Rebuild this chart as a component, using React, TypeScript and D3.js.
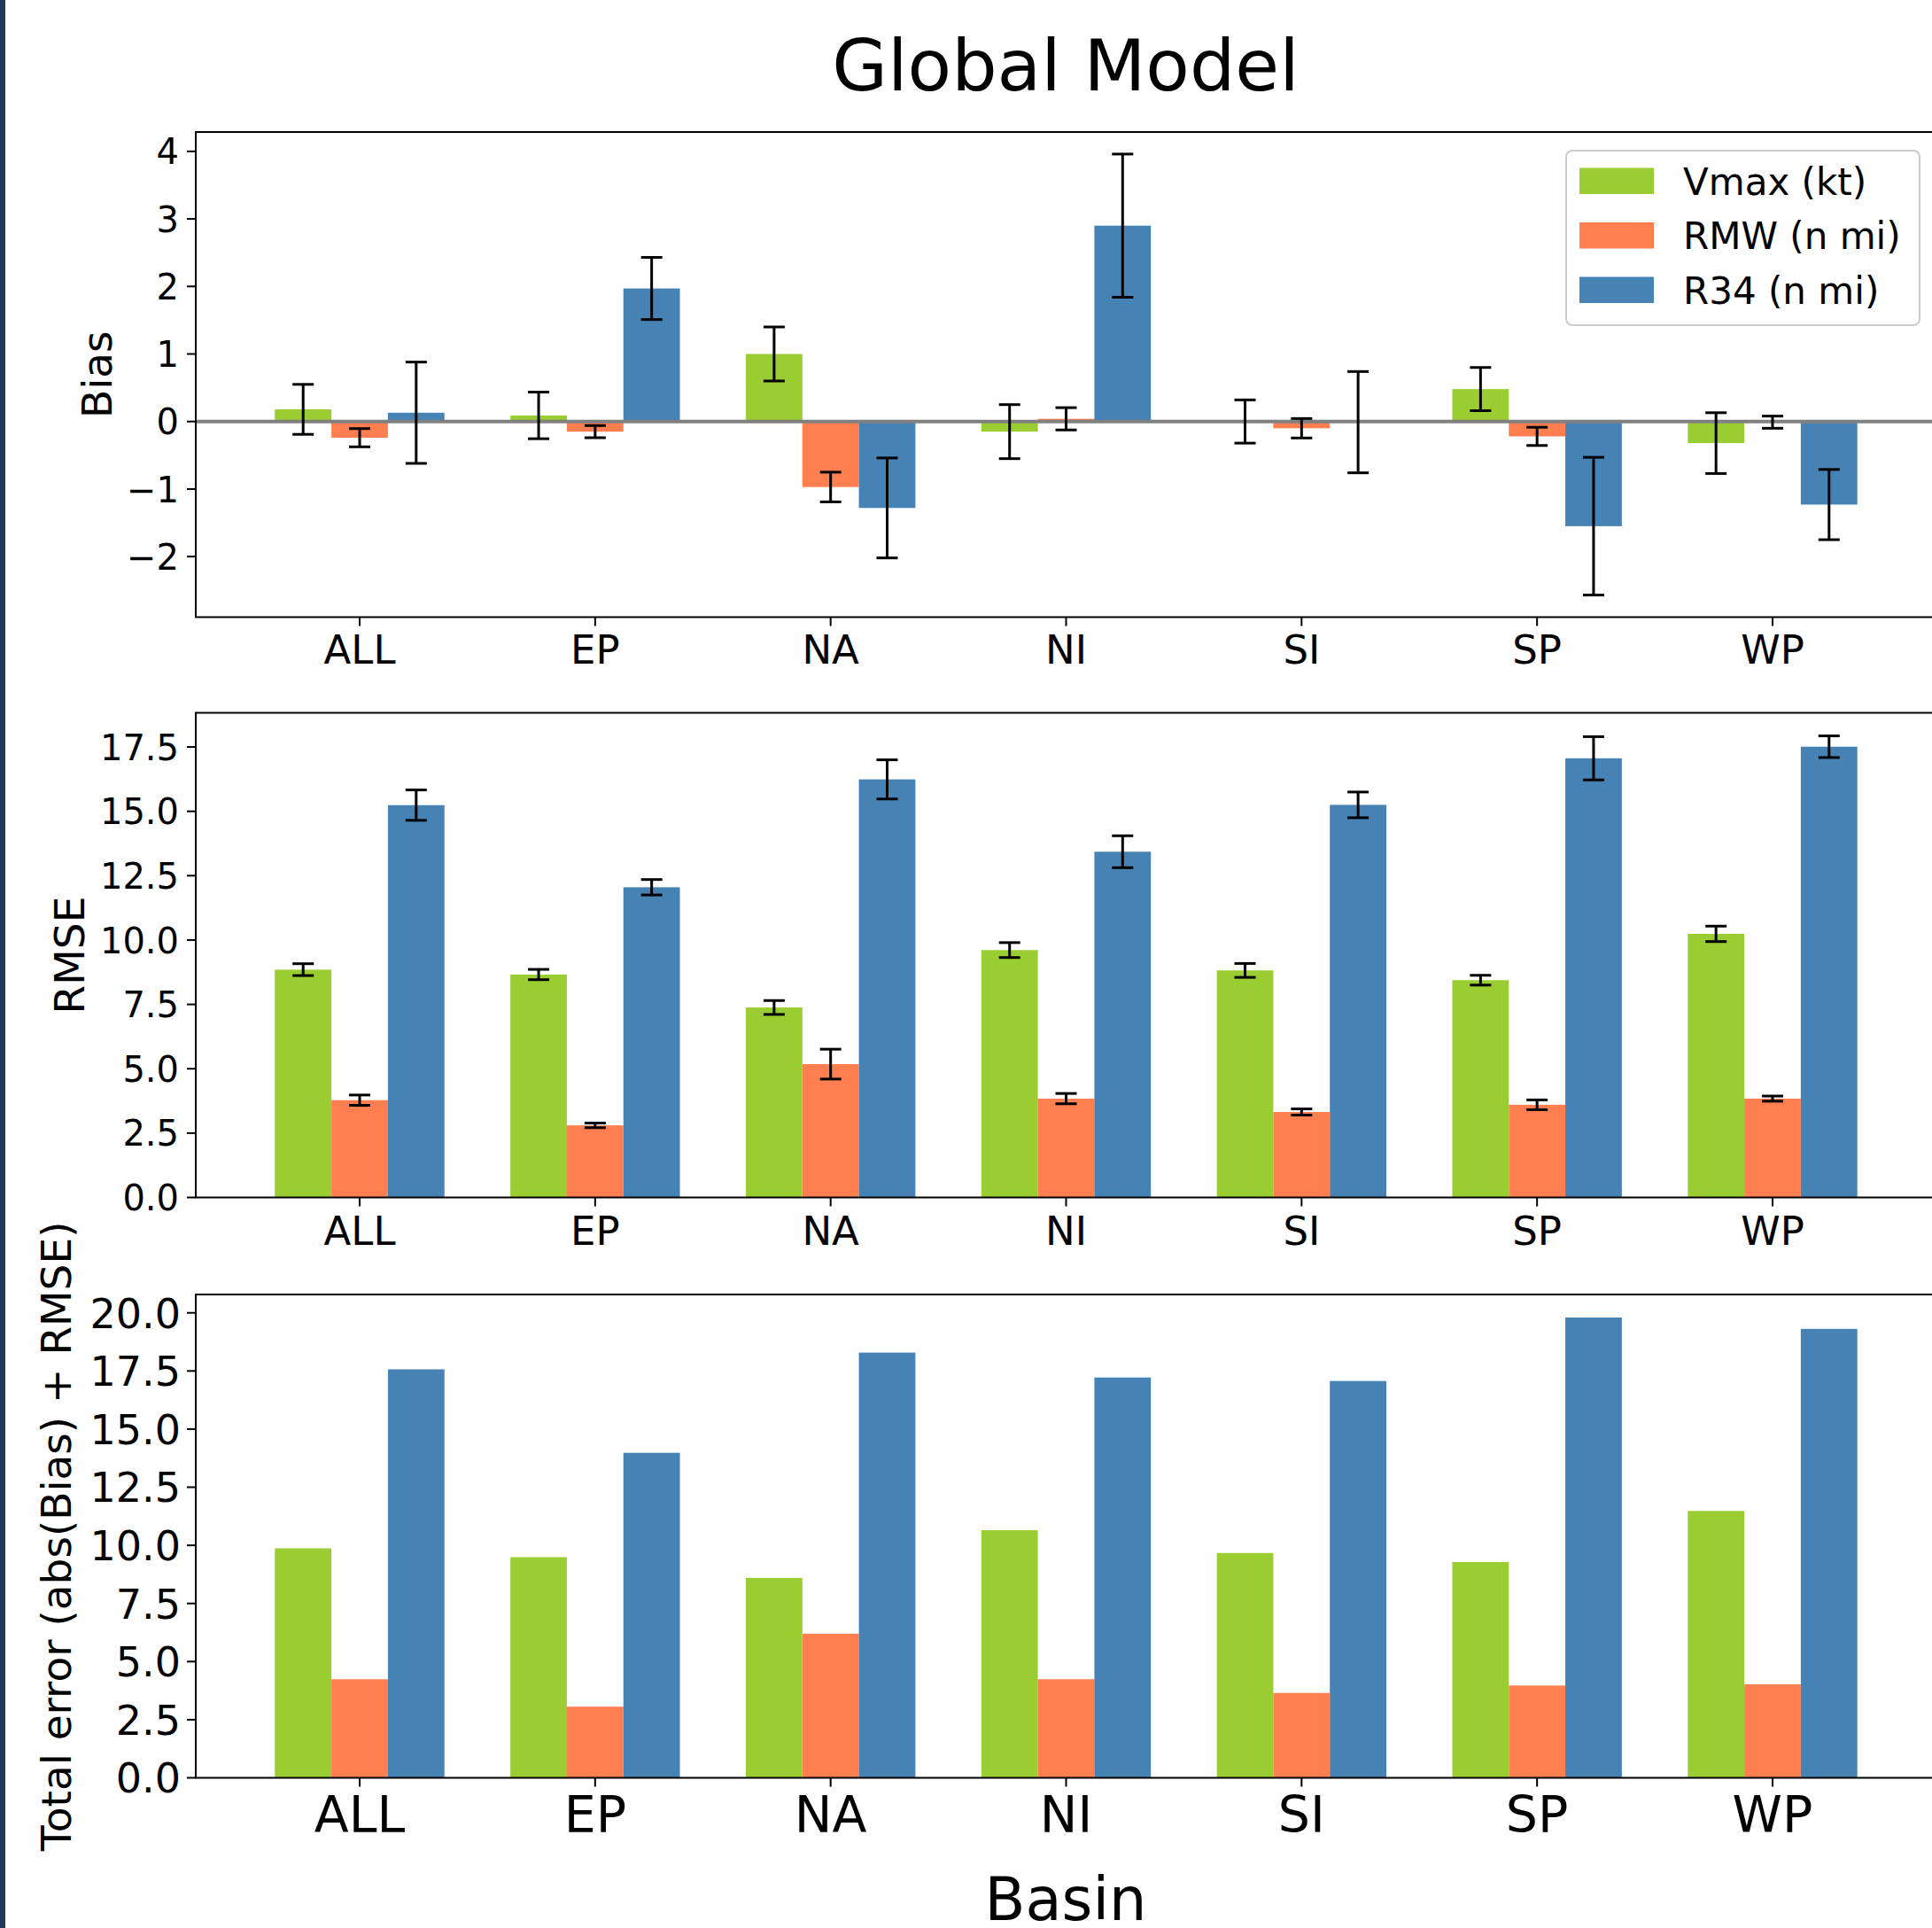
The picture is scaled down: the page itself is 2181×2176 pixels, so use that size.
import React from 'react';
import * as d3 from 'd3';

const basins = ["ALL", "EP", "NA", "NI", "SI", "SP", "WP"];
const seriesNames = ["Vmax (kt)", "RMW (n mi)", "R34 (n mi)"];
const seriesColors = ["#9ACD32", "#FF7F50", "#4682B4"];

// Bias (with 95% error bars)
const biasVmax = [0.18, 0.09, 1.0, -0.15, 0.0, 0.48, -0.32];
const biasVmaxErr = [0.37, 0.345, 0.4, 0.4, 0.32, 0.32, 0.45];
const biasRmw = [-0.24, -0.15, -0.97, 0.04, -0.1, -0.22, -0.01];
const biasRmwErr = [0.135, 0.09, 0.22, 0.165, 0.144, 0.135, 0.09];
const biasR34 = [0.13, 1.97, -1.28, 2.9, -0.01, -1.55, -1.23];
const biasR34Err = [0.75, 0.46, 0.74, 1.06, 0.75, 1.02, 0.52];

// RMSE
const rmseVmax = [8.85, 8.66, 7.38, 9.61, 8.82, 8.44, 10.24];
const rmseVmaxErr = [0.23, 0.2, 0.27, 0.29, 0.27, 0.19, 0.3];
const rmseRmw = [3.78, 2.8, 5.18, 3.84, 3.32, 3.6, 3.84];
const rmseRmwErr = [0.2, 0.09, 0.58, 0.2, 0.12, 0.19, 0.1];
const rmseR34 = [15.24, 12.05, 16.24, 13.43, 15.25, 17.06, 17.51];
const rmseR34Err = [0.59, 0.3, 0.76, 0.62, 0.5, 0.84, 0.42];

// Total error (abs(Bias) + RMSE)
const totalVmax = [9.87, 9.49, 8.6, 10.65, 9.67, 9.28, 11.48];
const totalRmw = [4.24, 3.06, 6.2, 4.24, 3.65, 3.97, 4.02];
const totalR34 = [17.57, 13.98, 18.29, 17.22, 17.07, 19.8, 19.31];

const biasTicks = [-2, -1, 0, 1, 2, 3, 4];
const rmseTicks = [0, 2.5, 5, 7.5, 10, 12.5, 15, 17.5];
const totalTicks = [0, 2.5, 5, 7.5, 10, 12.5, 15, 17.5, 20];

const W = 2181;
const H = 2176;
const FONT = "'DejaVu Sans', Verdana, sans-serif";
const barW = 0.24;
const axLeft = 221;
const axRight = 2186;

const xLo = -1.5 * barW;
const xHi = basins.length - 1 + 1.5 * barW;
const xPad = 0.05 * (xHi - xLo);
const x = d3.scaleLinear().domain([xLo - xPad, xHi + xPad]).range([axLeft, axRight]);

const fmtMinus = (v) => (v < 0 ? "\u2212" + Math.abs(v) : String(v));
const fmt1 = (v) => v.toFixed(1);

function Panel({ top, height, series, errs, ticks, tickFmt, tickFont, tickX, xFont, xOff, ylabel, ylabelX, zero, legend }) {
  const bottom = top + height;
  let lo = 0;
  let hi = 0;
  series.forEach((s, k) => s.forEach((v, i) => {
    const e = errs ? errs[k][i] : 0;
    lo = Math.min(lo, v - e);
    hi = Math.max(hi, v + e);
  }));
  const pad = 0.05 * (hi - lo);
  const y = d3.scaleLinear().domain([lo < 0 ? lo - pad : 0, hi + pad]).range([bottom, top]);

  return (
    <g>
      {series.map((s, k) => s.map((v, i) => {
        const cx = x(i + (k - 1) * barW);
        const x0 = x(i + (k - 1) * barW - barW / 2);
        const x1 = x(i + (k - 1) * barW + barW / 2);
        return (
          <rect key={`b${k}-${i}`} x={x0} width={x1 - x0}
            y={Math.min(y(v), y(0))} height={Math.abs(y(v) - y(0))}
            fill={seriesColors[k]} />
        );
      }))}
      {zero && (
        <line x1={axLeft} x2={axRight} y1={y(0)} y2={y(0)} stroke="#808080" strokeWidth={4} />
      )}
      {errs && series.map((s, k) => s.map((v, i) => {
        const cx = x(i + (k - 1) * barW);
        const e = errs[k][i];
        return (
          <g key={`e${k}-${i}`} stroke="#000" strokeWidth={3}>
            <line x1={cx} x2={cx} y1={y(v - e)} y2={y(v + e)} />
            <line x1={cx - 12} x2={cx + 12} y1={y(v - e)} y2={y(v - e)} />
            <line x1={cx - 12} x2={cx + 12} y1={y(v + e)} y2={y(v + e)} />
          </g>
        );
      }))}
      {/* y axis ticks */}
      {ticks.map((t) => (
        <g key={`yt${t}`}>
          <line x1={axLeft - 10} x2={axLeft} y1={y(t)} y2={y(t)} stroke="#000" strokeWidth={2} />
          <text x={tickX} y={y(t) + tickFont * 0.365} textAnchor="end" fontSize={tickFont}
            fontFamily={FONT} fill="#000">{tickFmt(t)}</text>
        </g>
      ))}
      {/* x axis ticks */}
      {basins.map((b, i) => (
        <g key={`xt${b}`}>
          <line x1={x(i)} x2={x(i)} y1={bottom} y2={bottom + 10} stroke="#000" strokeWidth={2} />
          <text x={x(i)} y={bottom + xOff} textAnchor="middle" fontSize={xFont}
            fontFamily={FONT} fill="#000">{b}</text>
        </g>
      ))}
      <rect x={axLeft} y={top} width={axRight - axLeft} height={height} fill="none" stroke="#000" strokeWidth={2} />
      <text transform={`translate(${ylabelX},${top + height / 2}) rotate(-90)`} textAnchor="middle"
        fontSize={47} fontFamily={FONT} fill="#000">{ylabel}</text>
      {legend && (
        <g>
          <rect x={1768} y={170} width={399} height={197} rx={7} fill="#fff" fillOpacity={0.8}
            stroke="#cccccc" strokeWidth={2} />
          {seriesNames.map((n, k) => (
            <g key={n}>
              <rect x={1783} y={189.5 + k * 61.5} width={84} height={29.5} fill={seriesColors[k]} />
              <text x={1900} y={204 + k * 61.5 + 15.5} fontSize={42} fontFamily={FONT} fill="#000">{n}</text>
            </g>
          ))}
        </g>
      )}
    </g>
  );
}

export default function App() {
  return (
    <svg width={W} height={H} style={{ position: 'absolute', left: 0, top: 0, background: '#fff' }}>
      <rect x={0} y={0} width={W} height={H} fill="#fff" />
      <rect x={0} y={0} width={6} height={H} fill="#22385f" />
      <text x={1203} y={102} textAnchor="middle" fontSize={81} fontFamily={FONT} fill="#000">Global Model</text>
      <Panel top={149} height={547.5}
        series={[biasVmax, biasRmw, biasR34]} errs={[biasVmaxErr, biasRmwErr, biasR34Err]}
        ticks={biasTicks} tickFmt={fmtMinus} tickFont={40} tickX={202}
        xFont={45} xOff={52} ylabel="Bias" ylabelX={126} zero legend />
      <Panel top={804.5} height={547}
        series={[rmseVmax, rmseRmw, rmseR34]} errs={[rmseVmaxErr, rmseRmwErr, rmseR34Err]}
        ticks={rmseTicks} tickFmt={fmt1} tickFont={40} tickX={202}
        xFont={45} xOff={53} ylabel="RMSE" ylabelX={95} />
      <Panel top={1461} height={545.5}
        series={[totalVmax, totalRmw, totalR34]}
        ticks={totalTicks} tickFmt={fmt1} tickFont={46} tickX={204}
        xFont={57} xOff={61} ylabel="Total error (abs(Bias) + RMSE)" ylabelX={80} />
      <text x={1203} y={2167} textAnchor="middle" fontSize={67} fontFamily={FONT} fill="#000">Basin</text>
    </svg>
  );
}
